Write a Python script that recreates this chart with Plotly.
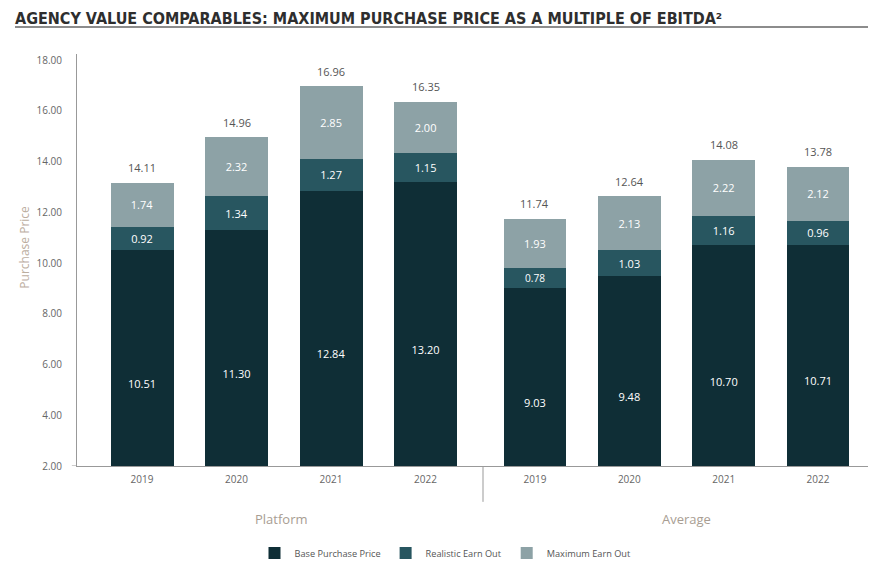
import plotly.graph_objects as go

years = ["2019", "2020", "2021", "2022"]
groups = ["Platform", "Average"]
base_platform = [10.51, 11.30, 12.84, 13.20]
realistic_platform = [0.92, 1.34, 1.27, 1.15]
maximum_platform = [1.74, 2.32, 2.85, 2.00]
total_labels_platform = ["14.11", "14.96", "16.96", "16.35"]
base_average = [9.03, 9.48, 10.70, 10.71]
realistic_average = [0.78, 1.03, 1.16, 0.96]
maximum_average = [1.93, 2.13, 2.22, 2.12]
total_labels_average = ["11.74", "12.64", "14.08", "13.78"]
series_names = ["Base Purchase Price", "Realistic Earn Out", "Maximum Earn Out"]
colors = ["#0f2e36", "#285660", "#8da2a6"]

FONT = "Open Sans, Noto Sans, sans-serif"
TITLE_FONT = "Liberation Sans Narrow, DejaVu Sans Condensed, Roboto Condensed, Arial Narrow, Open Sans, sans-serif"

# page is offset by the default 8px body margin; figure is sized to fit
W, H = 875, 574

fig = go.Figure()
data = {
    "x": [base_platform, realistic_platform, maximum_platform],
    "x2": [base_average, realistic_average, maximum_average],
}
for xa, series in data.items():
    for i, vals in enumerate(series):
        fig.add_trace(go.Bar(
            x=years, y=vals, name=series_names[i], xaxis=xa, yaxis="y",
            marker=dict(color=colors[i], line=dict(width=0)),
            text=[f"{v:.2f}" for v in vals], textposition="inside",
            insidetextanchor="middle", textangle=0,
            textfont=dict(color="white", size=11, family=FONT),
            legendgroup=series_names[i], showlegend=(xa == "x"),
            hoverinfo="skip",
        ))

annotations = []
for xa, series, labels in [("x", data["x"], total_labels_platform),
                           ("x2", data["x2"], total_labels_average)]:
    for j, yr in enumerate(years):
        tot = sum(s[j] for s in series)
        annotations.append(dict(x=j, y=tot, xref=xa, yref="y", text=labels[j],
                                showarrow=False, yshift=15, xanchor="center", yanchor="middle",
                                font=dict(size=11, color="#555555", family=FONT)))

split = (483 - 77) / 791
annotations += [
    dict(x=0.258, y=-0.1286, xref="paper", yref="paper", text=groups[0],
         xanchor="center", yanchor="middle",
         showarrow=False, font=dict(size=13, color="#a89d92", family=FONT)),
    dict(x=0.770, y=-0.1286, xref="paper", yref="paper", text=groups[1],
         xanchor="center", yanchor="middle",
         showarrow=False, font=dict(size=13, color="#a89d92", family=FONT)),
    dict(x=-0.0657, y=0.53, xref="paper", yref="paper", text="Purchase Price",
         xanchor="center", yanchor="middle",
         textangle=-90, showarrow=False, font=dict(size=12, color="#bcae9f", family=FONT)),
]

shapes = [
    dict(type="line", xref="paper", yref="paper", x0=split, x1=split, y0=0, y1=-0.087,
         line=dict(color="#999999", width=1)),
    dict(type="line", xref="paper", yref="y", x0=-0.0065, x1=0, y0=2, y1=2,
         line=dict(color="#999999", width=1)),
    dict(type="line", xref="paper", yref="paper", x0=-62 / 791, x1=1, y0=(466 - 27) / 412,
         y1=(466 - 27) / 412, line=dict(color="#8c8c8c", width=2)),
]

fig.update_layout(
    width=W, height=H,
    paper_bgcolor="white", plot_bgcolor="white",
    margin=dict(l=69, r=15, t=46, b=116, autoexpand=False),
    barmode="stack", bargap=0.333,
    font=dict(family=FONT, size=10, color="#666666"),
    title=dict(text="<b>AGENCY VALUE COMPARABLES: MAXIMUM PURCHASE PRICE AS A MULTIPLE OF EBITDA²</b>",
               x=7 / W, xanchor="left", xref="container", y=1 - 10 / H, yanchor="middle",
               yref="container", font=dict(family=TITLE_FONT, size=16, color="#2e2e2e")),
    xaxis=dict(domain=[0, split], range=[-0.688, 3.608], type="category",
               showline=True, linecolor="#999999", linewidth=1, showgrid=False,
               ticks="", ticklabelstandoff=4, tickfont=dict(size=10, color="#666666"),
               fixedrange=True),
    xaxis2=dict(domain=[split, 1], range=[-0.551, 3.53], type="category", anchor="y",
                showline=True, linecolor="#999999", linewidth=1, showgrid=False,
                ticks="", ticklabelstandoff=4, tickfont=dict(size=10, color="#666666"),
                fixedrange=True),
    yaxis=dict(range=[2, 18.24], tick0=2, dtick=2, tickformat=".2f",
               showline=True, linecolor="#999999", linewidth=1, showgrid=False,
               zeroline=False, ticks="", ticklabelstandoff=12,
               tickfont=dict(size=10, color="#666666")),
    legend=dict(orientation="h", xref="container", yref="container", x=0.5, xanchor="center",
                y=1 - 545 / H, yanchor="middle", font=dict(size=9.2, color="#555555"),
                itemsizing="constant", traceorder="normal"),
    annotations=annotations,
    shapes=shapes,
)

fig.write_html("out.html")
